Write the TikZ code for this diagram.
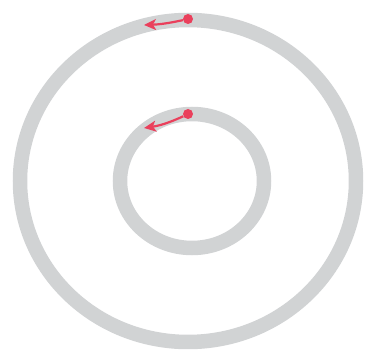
\documentclass[tikz,border=0pt]{standalone}
\usepackage{tikz}
\usetikzlibrary{arrows.meta,positioning,calc}
\definecolor{ringcolor}{RGB}{209,211,212}
\definecolor{dotcolor}{RGB}{234,64,92}

\begin{document}
\begin{tikzpicture}[
    x=1pt, y=-1pt,
    ring/.style={draw=ringcolor, line width=14.5pt},
    dot/.style={circle, fill=dotcolor, inner sep=0pt, minimum size=10pt},
    arrow/.style={-{Stealth[length=12pt, width=11pt, inset=3pt]}, draw=dotcolor, line width=2.2pt}
]
\useasboundingbox (0,0) rectangle (365,350);

% 1. Outer ring
\draw[ring] (188,181) ellipse [x radius=168, y radius=161];
\node[dot] (d1) at (188,19) {};
\coordinate (e1) at (144,25);
\draw[arrow] (d1) to[bend left=5] (e1);

% 2. Inner ring
\draw[ring] (192,181) ellipse [x radius=72, y radius=67];
\node[dot] (d2) at (188,114) {};
\coordinate (e2) at (144,128);
\draw[arrow] (d2) to[bend left=8] (e2);

\end{tikzpicture}
\end{document}
